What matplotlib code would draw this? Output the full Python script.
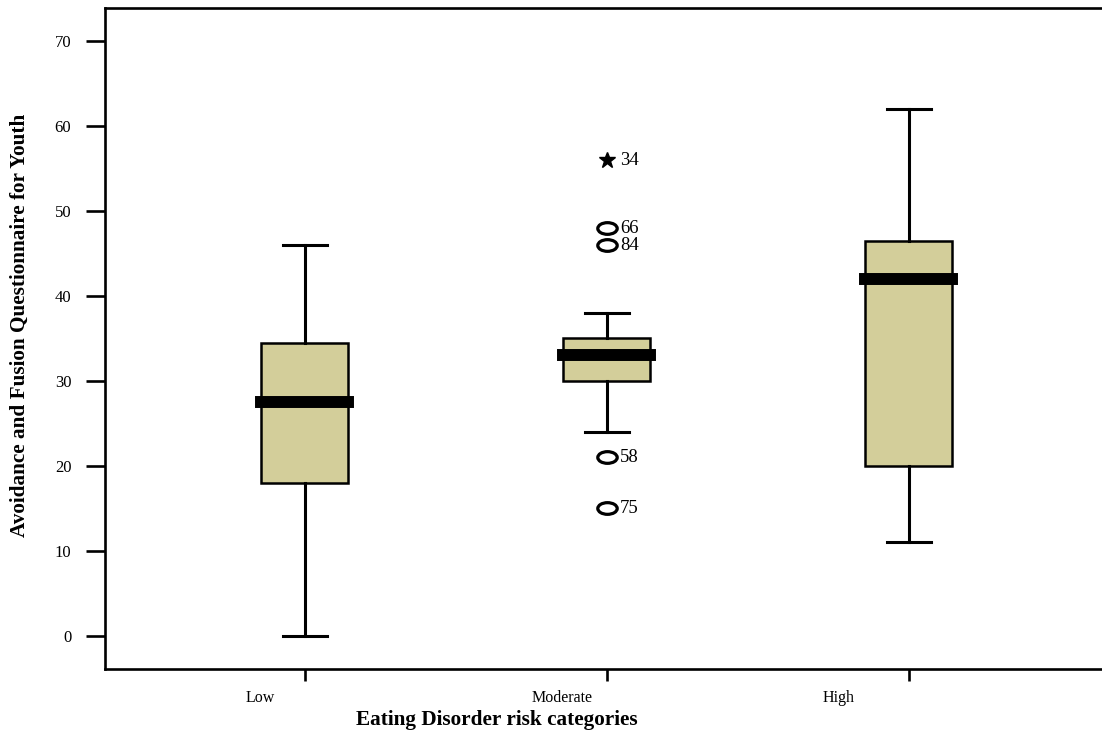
import matplotlib
matplotlib.use("Agg")
import matplotlib.pyplot as plt
from matplotlib.path import Path
from matplotlib.transforms import Affine2D, ScaledTranslation

categories = ["Low", "Moderate", "High"]
whislo = [0, 24, 11]
q1 = [18, 30, 20]
med = [27.5, 33, 42]
q3 = [34.5, 35, 46.5]
whishi = [46, 38, 62]

# outliers of the Moderate group: (value, case number, extreme?)
out_vals = [56, 48, 46, 21, 15]
out_ids = ["34", "66", "84", "58", "75"]
out_extreme = [True, False, False, False, False]
out_group = 2

plt.rcParams['font.family'] = ['Liberation Serif', 'DejaVu Serif']

fig = plt.figure(figsize=(11.02, 7.34), dpi=100)
ax = fig.add_axes([105 / 1102, 1 - 669 / 734, 1 - 105 / 1102, 661 / 734])

stats = []
for i, c in enumerate(categories):
    stats.append(dict(label=c, whislo=whislo[i], q1=q1[i], med=med[i], q3=q3[i],
                      whishi=whishi[i], fliers=[]))

ax.bxp(stats, positions=[1, 2, 3], widths=0.288, capwidths=0.146,
       patch_artist=True, showfliers=False,
       boxprops=dict(facecolor='#D3CE9A', edgecolor='black', linewidth=1.8),
       whiskerprops=dict(color='black', linewidth=2.2),
       capprops=dict(color='black', linewidth=2.2),
       medianprops=dict(color='black', linewidth=8.6, solid_capstyle='projecting'))

ellipse = Path.unit_circle().transformed(Affine2D().scale(1.0, 0.6))
for v, lab, ext in zip(out_vals, out_ids, out_extreme):
    if ext:
        ax.plot(out_group, v, marker='*', color='black', markersize=12, linestyle='none')
    else:
        ax.plot(out_group, v, marker=ellipse, markerfacecolor='none', markeredgecolor='black',
                markeredgewidth=2.3, markersize=14, linestyle='none')
    ax.annotate(lab, (out_group, v), xytext=(9.5, 0), textcoords='offset points',
                ha='left', va='center', fontsize=13.5)

ax.set_xlim(0.338, 3.64)
ax.set_ylim(-3.9, 73.9)
ax.set_yticks([0, 10, 20, 30, 40, 50, 60, 70])
ax.set_xticks([1, 2, 3])
ax.set_xticklabels(categories)

for s in ['left', 'top', 'bottom']:
    ax.spines[s].set_linewidth(1.9)
ax.spines['right'].set_visible(False)

ax.tick_params(axis='y', length=13.5, width=1.9, labelsize=12, pad=10.8)
ax.tick_params(axis='x', length=8.5, width=1.9, labelsize=11.5, pad=6.5)

# the original places the category labels left of their ticks
shifts = [-45, -45, -70]
for lbl, dx in zip(ax.get_xticklabels(), shifts):
    lbl.set_transform(lbl.get_transform() + ScaledTranslation(dx / 100, 0, fig.dpi_scale_trans))

ax.set_xlabel("Eating Disorder risk categories", fontsize=15.3, fontweight='bold')
ax.set_ylabel("Avoidance and Fusion Questionnaire for Youth", fontsize=15.3, fontweight='bold')
ax.xaxis.set_label_coords(0.393, -0.062)
ax.yaxis.set_label_coords(-0.0752, 0.520)

fig.savefig("out.png", dpi=100)
